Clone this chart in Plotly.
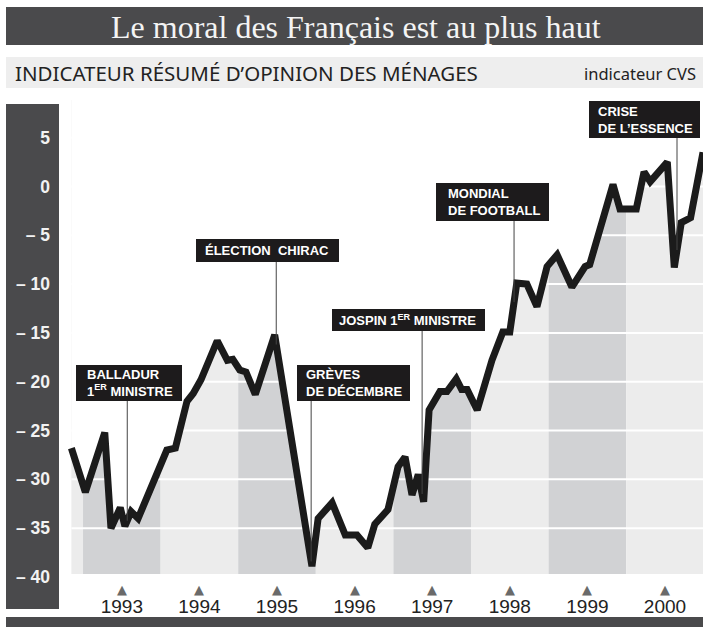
import numpy as np
import plotly.graph_objects as go

# ---------------- data ----------------
dates = [1992.85, 1993.03, 1993.28, 1993.36, 1993.48, 1993.54, 1993.62, 1993.71,
         1994.08, 1994.19, 1994.34, 1994.42, 1994.52, 1994.73, 1994.86, 1994.93,
         1995.02, 1995.10, 1995.22, 1995.47, 1995.95, 1996.03, 1996.21, 1996.38,
         1996.53, 1996.67, 1996.76, 1996.93, 1997.06, 1997.15, 1997.24, 1997.32,
         1997.39, 1997.46, 1997.60, 1997.69, 1997.81, 1997.88, 1997.95, 1998.08,
         1998.27, 1998.41, 1998.50, 1998.59, 1998.72, 1998.85, 1998.98, 1999.11,
         1999.30, 1999.47, 1999.53, 1999.83, 1999.92, 2000.13, 2000.23, 2000.31,
         2000.53, 2000.62, 2000.71, 2000.83, 2000.99]
values = [-26.8, -31.3, -25.2, -35.0, -32.9, -34.8, -33.3, -34.0,
          -27.0, -26.8, -22.0, -21.2, -19.8, -15.8, -17.8, -17.7,
          -18.8, -19.0, -21.3, -15.2, -38.9, -34.0, -32.4, -35.7,
          -35.7, -37.0, -34.6, -33.1, -28.7, -27.7, -31.6, -29.5,
          -32.3, -22.9, -21.0, -21.0, -19.7, -20.8, -20.8, -22.9,
          -17.8, -14.9, -14.9, -9.9, -10.0, -12.3, -8.2, -7.0,
          -10.3, -8.2, -8.0, 0.2, -2.3, -2.3, 1.5, 0.5,
          2.5, -8.3, -3.7, -3.2, 3.5]

years = [1993, 1994, 1995, 1996, 1997, 1998, 1999, 2000]
year_labels = [str(y) for y in years]
y_ticks = [5, 0, -5, -10, -15, -20, -25, -30, -35, -40]
y_tick_labels = ["5", "0", "– 5", "– 10", "– 15", "– 20", "– 25", "– 30", "– 35", "– 40"]

# events: label, date of the event
event_labels = ["BALLADUR<br>1<sup>ER</sup> MINISTRE",
                "ÉLECTION  CHIRAC",
                "GRÈVES<br>DE DÉCEMBRE",
                "JOSPIN 1<sup>ER</sup> MINISTRE",
                "MONDIAL<br>DE FOOTBALL",
                "CRISE<br>DE L’ESSENCE"]
event_dates = [1993.57, 1995.49, 1995.94, 1997.37, 1998.555, 2000.655]

title = "Le moral des Français est au plus haut"
subtitle = "INDICATEUR RÉSUMÉ D’OPINION DES MÉNAGES"
unit = "indicateur CVS"

# ---------------- layout geometry ----------------
OFF = 0
W, H = 703, 627
ML, MR, MT, MB = 62, 0, 100, 50
X_RANGE = [1992.729, 2000.99]
Y_RANGE = [-40, 8.86]
PW, PH = W - ML - MR, H - MT - MB

def px(x):  # page pixel x -> paper
    return (x - OFF - ML) / PW

def py(y):  # page pixel y -> paper
    return (H - MB - (y - OFF)) / PH

def dy(y):  # page pixel y -> data y
    return Y_RANGE[0] + py(y) * (Y_RANGE[1] - Y_RANGE[0])

DARK = "#4a4a4c"
BAND_DARK = "#d1d2d4"
BAND_LIGHT = "#ececec"

fig = go.Figure()
shapes = []
annotations = []

# header bars
shapes.append(dict(type="rect", xref="paper", yref="paper", x0=px(6), x1=px(705),
                   y0=py(45), y1=py(7), fillcolor=DARK, line_width=0, layer="below"))
shapes.append(dict(type="rect", xref="paper", yref="paper", x0=px(6), x1=px(705),
                   y0=py(88), y1=py(57), fillcolor="#eeeeee", line_width=0, layer="below"))
# left panel and bottom bar
shapes.append(dict(type="rect", xref="paper", yref="paper", x0=px(6), x1=px(59),
                   y0=py(609), y1=py(104), fillcolor=DARK, line_width=0, layer="below"))
shapes.append(dict(type="rect", xref="paper", yref="paper", x0=px(6), x1=px(705),
                   y0=py(629), y1=py(617), fillcolor=DARK, line_width=0, layer="below"))

# year bands under the curve
x_start, x_end = dates[0], X_RANGE[1]
edges = [x_start] + years + [x_end + 0.1]
for i in range(len(edges) - 1):
    yr = int(np.floor(edges[i] + 1e-9)) if i > 0 else 1992
    col = BAND_DARK if yr % 2 == 1 else BAND_LIGHT
    shapes.append(dict(type="rect", xref="x", yref="y", x0=edges[i], x1=edges[i + 1],
                       y0=Y_RANGE[0] + 0.3, y1=Y_RANGE[1], fillcolor=col, line_width=0,
                       layer="below"))
# white grid lines
for v in y_ticks[:-1]:
    shapes.append(dict(type="line", xref="x", yref="y", x0=x_start, x1=x_end + 0.1,
                       y0=v, y1=v, line=dict(color="white", width=2), layer="below"))

# white mask above the curve
mask_x = dates + [dates[-1], dates[0], dates[0]]
mask_y = values + [Y_RANGE[1] + 1, Y_RANGE[1] + 1, values[0]]
fig.add_trace(go.Scatter(x=mask_x, y=mask_y, mode="lines", fill="toself",
                         fillcolor="white", line=dict(width=0, color="white"),
                         hoverinfo="skip"))

# the curve
fig.add_trace(go.Scatter(x=dates, y=values, mode="lines",
                         line=dict(color="#1b1b1b", width=7),
                         hoverinfo="skip"))

# tick triangles
for y in years:
    annotations.append(dict(xref="x", yref="paper", x=y + 0.5, y=py(589),
                            xanchor="center", yanchor="middle", text="▲", showarrow=False,
                            font=dict(family="DejaVu Sans", size=13, color="#6a6a6a")))

# event boxes (page pixel boxes: x0, x1, y0, y1) and text left
boxes = [(76, 182, 365, 401, 85),
         (196, 339, 239, 262, 203),
         (297, 410, 365, 401, 304),
         (332, 485, 309, 331, 337),
         (436, 549, 183, 221, 446),
         (589, 700, 101, 138, 596)]
for lab, d, (bx0, bx1, by0, by1, tx) in zip(event_labels, event_dates, boxes):
    yv = float(np.interp(d, dates, values))
    shapes.append(dict(type="line", xref="x", yref="y", x0=d, x1=d, y0=dy(by1), y1=yv,
                       line=dict(color="#444444", width=1), layer="above"))
    shapes.append(dict(type="rect", xref="paper", yref="paper", x0=px(bx0), x1=px(bx1),
                       y0=py(by1), y1=py(by0), fillcolor="#1d1b1c", line_width=0,
                       layer="above"))
    annotations.append(dict(xref="paper", yref="paper", x=px(tx), y=py((by0 + by1) / 2),
                            xanchor="left", yanchor="middle", align="left",
                            text=lab, showarrow=False,
                            font=dict(family="Liberation Sans", size=13, color="white",
                                      weight="bold")))

# titles
annotations.append(dict(xref="paper", yref="paper", x=px(356), y=py(27),
                        xanchor="center", yanchor="middle", text=title, showarrow=False,
                        font=dict(family="Liberation Serif", size=32, color="#f4f4f4")))
annotations.append(dict(xref="paper", yref="paper", x=px(13), y=py(73),
                        xanchor="left", yanchor="middle", text=subtitle, showarrow=False,
                        font=dict(family="Noto Sans", size=20.5, color="#222222")))
annotations.append(dict(xref="paper", yref="paper", x=px(698), y=py(73),
                        xanchor="right", yanchor="middle", text=unit, showarrow=False,
                        font=dict(family="Noto Sans", size=16.5, color="#222222")))

fig.update_layout(
    width=W, height=H,
    margin=dict(l=ML, r=MR, t=MT, b=MB),
    paper_bgcolor="white", plot_bgcolor="rgba(0,0,0,0)",
    showlegend=False, hovermode=False,
    shapes=shapes, annotations=annotations,
    xaxis=dict(range=X_RANGE, showgrid=False, zeroline=False, showline=False,
               tickmode="array", tickvals=[y + 0.5 for y in years], ticktext=year_labels,
               ticks="", ticklabelstandoff=16,
               tickfont=dict(family="Liberation Sans", size=19, color="#222222"),
               fixedrange=True),
    yaxis=dict(range=Y_RANGE, showgrid=False, zeroline=False, showline=False,
               tickmode="array", tickvals=y_ticks, ticktext=y_tick_labels,
               ticks="", ticklabelstandoff=11,
               tickfont=dict(family="Liberation Sans", size=17.5, color="#f2f2f2",
                             weight="bold"),
               fixedrange=True),
)

fig.write_html("out.html",
               config={"displayModeBar": False},
               post_script="document.body.style.margin='0';"
                           "document.body.style.overflow='hidden';")
